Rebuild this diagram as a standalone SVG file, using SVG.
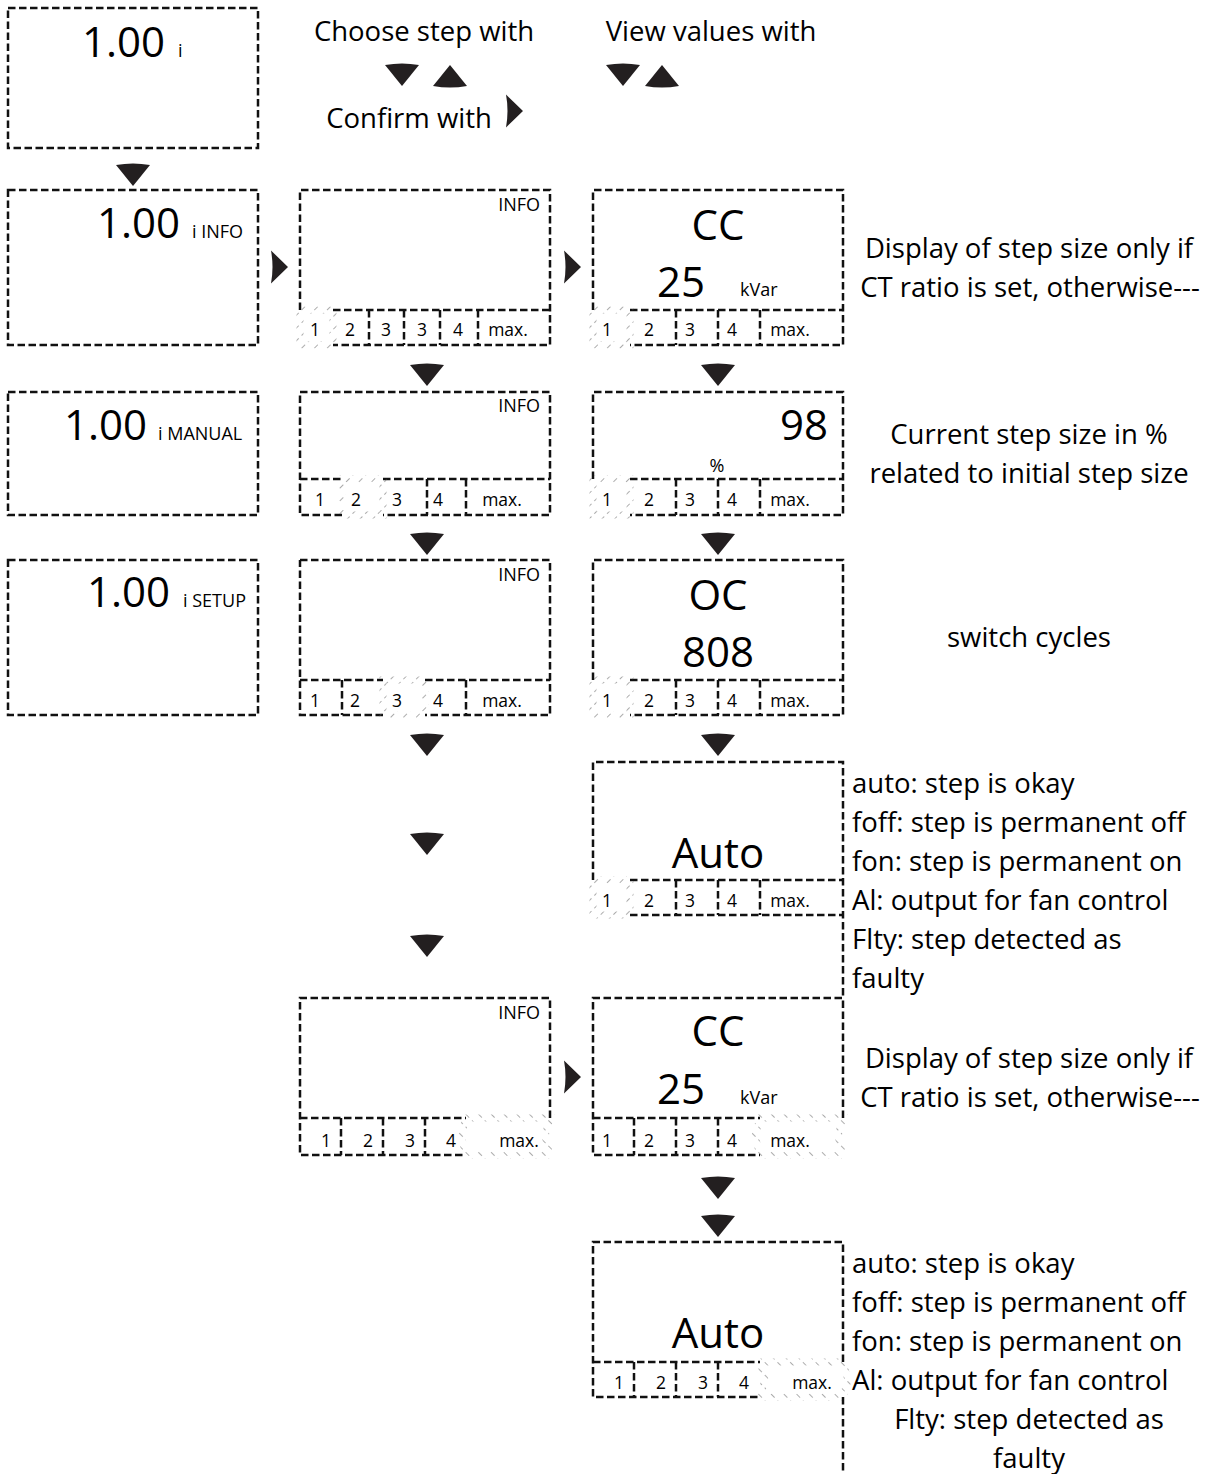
<svg xmlns="http://www.w3.org/2000/svg" width="1215" height="1474" viewBox="0 0 1215 1474">
<style>
.b{fill:none;stroke:#111;stroke-width:2.5;stroke-dasharray:7.5 3.5}
.hf{fill:none;stroke:url(#hatchF);stroke-width:7}
.hb{fill:none;stroke:url(#hatchB);stroke-width:7}
text{font-family:"Open Sans","Noto Sans",sans-serif;fill:#000}
.big{font-size:42px}
.sm{font-size:18px}
.c{font-size:17.5px;text-anchor:middle}
.body{font-size:27.5px}
.mid{text-anchor:middle}
.end{text-anchor:end}
.arr{fill:#231f20}
</style>
<defs>
<pattern id="hatchF" width="9" height="9" patternUnits="userSpaceOnUse" patternTransform="rotate(45)">
<line x1="0" y1="1" x2="0" y2="6" stroke="#666" stroke-width="1.1"/>
</pattern>
<pattern id="hatchB" width="9" height="9" patternUnits="userSpaceOnUse" patternTransform="rotate(-45)">
<line x1="0" y1="1" x2="0" y2="6" stroke="#666" stroke-width="1.1"/>
</pattern>
<path id="dn" d="M-17,0 Q0,-3 17,0 L0,21 Z"/>
<path id="up" d="M-17,0 Q0,3 17,0 L0,-21 Z"/>
<path id="rt" d="M0,-16.5 Q3,0 0,16.5 L17,0 Z"/>
</defs>

<g id="legend">
<text class="body mid" x="424" y="41">Choose step with</text>
<use href="#dn" class="arr" x="402" y="65"/>
<use href="#up" class="arr" x="450" y="86"/>
<text class="body mid" x="711" y="41">View values with</text>
<use href="#dn" class="arr" x="623" y="65"/>
<use href="#up" class="arr" x="662" y="86"/>
<text class="body mid" x="409" y="128">Confirm with</text>
<use href="#rt" class="arr" x="506" y="111"/>
</g>

<g id="box-start">
<rect class="b" x="8" y="8" width="250" height="140"/>
<text class="big end" x="165" y="57">1.00</text>
<text class="sm" x="178" y="57">i</text>
</g>

<g id="box-info">
<rect class="b" x="8" y="190" width="250" height="155"/>
<text class="big end" x="180" y="238">1.00</text>
<text class="sm" x="192" y="238">i INFO</text>
</g>

<g id="box-manual">
<rect class="b" x="8" y="392" width="250" height="123"/>
<text class="big end" x="147" y="440">1.00</text>
<text class="sm" x="158" y="440">i MANUAL</text>
</g>

<g id="box-setup">
<rect class="b" x="8" y="560" width="250" height="155"/>
<text class="big end" x="170" y="607">1.00</text>
<text class="sm" x="183" y="607">i SETUP</text>
</g>

<g id="step-select-1">
<path class="b" d="M300,310 V190 H550 V345 H333 M333,310 H550 M369,310 V345 M404,310 V345 M440,310 V345 M478,310 V345"/>
<path class="hf" d="M333,310 H300 V345 H333 Z"/>
<text class="sm end" x="540" y="211">INFO</text>
<text class="c" x="315" y="336">1</text>
<text class="c" x="350" y="336">2</text>
<text class="c" x="386" y="336">3</text>
<text class="c" x="422" y="336">3</text>
<text class="c" x="458" y="336">4</text>
<text class="c" x="508" y="336">max.</text>
</g>

<g id="step1-cc">
<path class="b" d="M593,310 V190 H843 V345 H630 M630,310 H843 M676,310 V345 M718,310 V345 M760,310 V345"/>
<path class="hf" d="M630,310 H593 V345 H630 Z"/>
<text class="big mid" x="718" y="240">CC</text>
<text class="big mid" x="681" y="297">25</text>
<text class="sm" x="740" y="296">kVar</text>
<text class="c" x="607" y="336">1</text>
<text class="c" x="649" y="336">2</text>
<text class="c" x="690" y="336">3</text>
<text class="c" x="732" y="336">4</text>
<text class="c" x="790" y="336">max.</text>
</g>
<g id="note-cc-1">
<text class="body mid" x="1029" y="258">Display of step size only if</text>
<text class="body mid" x="1030" y="297">CT ratio is set, otherwise---</text>
</g>

<g id="step-select-2">
<path class="b" d="M300,392 H550 V515 H383 M342,515 H300 V392 M300,479 H342 M383,479 H550 M427,479 V515 M466,479 V515"/>
<path class="hf" d="M342,479 H383 V515 H342 Z"/>
<text class="sm end" x="540" y="412">INFO</text>
<text class="c" x="320" y="506">1</text>
<text class="c" x="356" y="506">2</text>
<text class="c" x="397" y="506">3</text>
<text class="c" x="438" y="506">4</text>
<text class="c" x="502" y="506">max.</text>
</g>

<g id="step1-percent">
<path class="b" d="M593,479 V392 H843 V515 H630 M630,479 H843 M676,479 V515 M718,479 V515 M760,479 V515"/>
<path class="hf" d="M630,479 H593 V515 H630 Z"/>
<text class="big end" x="828" y="440">98</text>
<text class="sm mid" x="717" y="472">%</text>
<text class="c" x="607" y="506">1</text>
<text class="c" x="649" y="506">2</text>
<text class="c" x="690" y="506">3</text>
<text class="c" x="732" y="506">4</text>
<text class="c" x="790" y="506">max.</text>
</g>
<g id="note-percent">
<text class="body mid" x="1029" y="444">Current step size in %</text>
<text class="body mid" x="1029" y="483">related to initial step size</text>
</g>

<g id="step-select-3">
<path class="b" d="M300,560 H550 V715 H425 M383,715 H300 V560 M300,680 H383 M425,680 H550 M342,680 V715 M466,680 V715"/>
<path class="hf" d="M383,680 H425 V715 H383 Z"/>
<text class="sm end" x="540" y="581">INFO</text>
<text class="c" x="315" y="707">1</text>
<text class="c" x="355" y="707">2</text>
<text class="c" x="397" y="707">3</text>
<text class="c" x="438" y="707">4</text>
<text class="c" x="502" y="707">max.</text>
</g>

<g id="step1-oc">
<path class="b" d="M593,680 V560 H843 V715 H630 M630,680 H843 M676,680 V715 M718,680 V715 M760,680 V715"/>
<path class="hf" d="M630,680 H593 V715 H630 Z"/>
<text class="big mid" x="718" y="610">OC</text>
<text class="big mid" x="718" y="667">808</text>
<text class="c" x="607" y="707">1</text>
<text class="c" x="649" y="707">2</text>
<text class="c" x="690" y="707">3</text>
<text class="c" x="732" y="707">4</text>
<text class="c" x="790" y="707">max.</text>
</g>
<g id="note-oc">
<text class="body mid" x="1029" y="647">switch cycles</text>
</g>

<g id="step1-auto">
<path class="b" d="M593,880 V762 H843 V997 M630,880 H843 M630,915 H843 M676,880 V915 M718,880 V915 M760,880 V915"/>
<path class="hf" d="M630,880 H593 V915 H630 Z"/>
<text class="big mid" x="718" y="868">Auto</text>
<text class="c" x="607" y="907">1</text>
<text class="c" x="649" y="907">2</text>
<text class="c" x="690" y="907">3</text>
<text class="c" x="732" y="907">4</text>
<text class="c" x="790" y="907">max.</text>
</g>
<g id="note-auto-1">
<text class="body" x="852" y="793">auto: step is okay</text>
<text class="body" x="852" y="832">foff: step is permanent off</text>
<text class="body" x="852" y="871">fon: step is permanent on</text>
<text class="body" x="852" y="910">Al: output for fan control</text>
<text class="body" x="852" y="949">Flty: step detected as</text>
<text class="body" x="852" y="988">faulty</text>
</g>

<g id="step-select-max">
<path class="b" d="M550,1118 V998 H300 V1155 H466 M300,1118 H466 M341,1118 V1155 M383,1118 V1155 M425,1118 V1155"/>
<path class="hb" d="M466,1118 H550 L545,1136 L550,1155 H466 L461,1136 Z"/>
<text class="sm end" x="540" y="1019">INFO</text>
<text class="c" x="326" y="1147">1</text>
<text class="c" x="368" y="1147">2</text>
<text class="c" x="410" y="1147">3</text>
<text class="c" x="451" y="1147">4</text>
<text class="c" x="519" y="1147">max.</text>
</g>

<g id="max-cc">
<path class="b" d="M843,1118 V998 H593 V1155 H760 M593,1118 H760 M634,1118 V1155 M676,1118 V1155 M718,1118 V1155"/>
<path class="hb" d="M760,1118 H843 L838,1136 L843,1155 H760 L755,1136 Z"/>
<text class="big mid" x="718" y="1046">CC</text>
<text class="big mid" x="681" y="1104">25</text>
<text class="sm" x="740" y="1104">kVar</text>
<text class="c" x="607" y="1147">1</text>
<text class="c" x="649" y="1147">2</text>
<text class="c" x="690" y="1147">3</text>
<text class="c" x="732" y="1147">4</text>
<text class="c" x="790" y="1147">max.</text>
</g>
<g id="note-cc-2">
<text class="body mid" x="1029" y="1068">Display of step size only if</text>
<text class="body mid" x="1030" y="1107">CT ratio is set, otherwise---</text>
</g>

<g id="max-auto">
<path class="b" d="M843,1362 V1242 H593 V1397 H760 M593,1362 H760 M634,1362 V1397 M676,1362 V1397 M718,1362 V1397 M843,1397 V1474"/>
<path class="hb" d="M760,1362 H843 L848,1380 L843,1397 H760 L765,1380 Z"/>
<text class="big mid" x="718" y="1348">Auto</text>
<text class="c" x="619" y="1389">1</text>
<text class="c" x="661" y="1389">2</text>
<text class="c" x="703" y="1389">3</text>
<text class="c" x="744" y="1389">4</text>
<text class="c" x="812" y="1389">max.</text>
</g>
<g id="note-auto-2">
<text class="body" x="852" y="1273">auto: step is okay</text>
<text class="body" x="852" y="1312">foff: step is permanent off</text>
<text class="body" x="852" y="1351">fon: step is permanent on</text>
<text class="body" x="852" y="1390">Al: output for fan control</text>
<text class="body mid" x="1029" y="1429">Flty: step detected as</text>
<text class="body mid" x="1029" y="1468">faulty</text>
</g>

<g id="connectors" class="arr">
<use href="#dn" x="133" y="165"/>
<use href="#rt" x="271" y="267"/>
<use href="#rt" x="564" y="267"/>
<use href="#dn" x="427" y="365"/>
<use href="#dn" x="718" y="365"/>
<use href="#dn" x="427" y="534"/>
<use href="#dn" x="718" y="534"/>
<use href="#dn" x="427" y="735"/>
<use href="#dn" x="718" y="735"/>
<use href="#dn" x="427" y="834"/>
<use href="#dn" x="427" y="936"/>
<use href="#rt" x="564" y="1077"/>
<use href="#dn" x="718" y="1178"/>
<use href="#dn" x="718" y="1216"/>
</g>
</svg>
